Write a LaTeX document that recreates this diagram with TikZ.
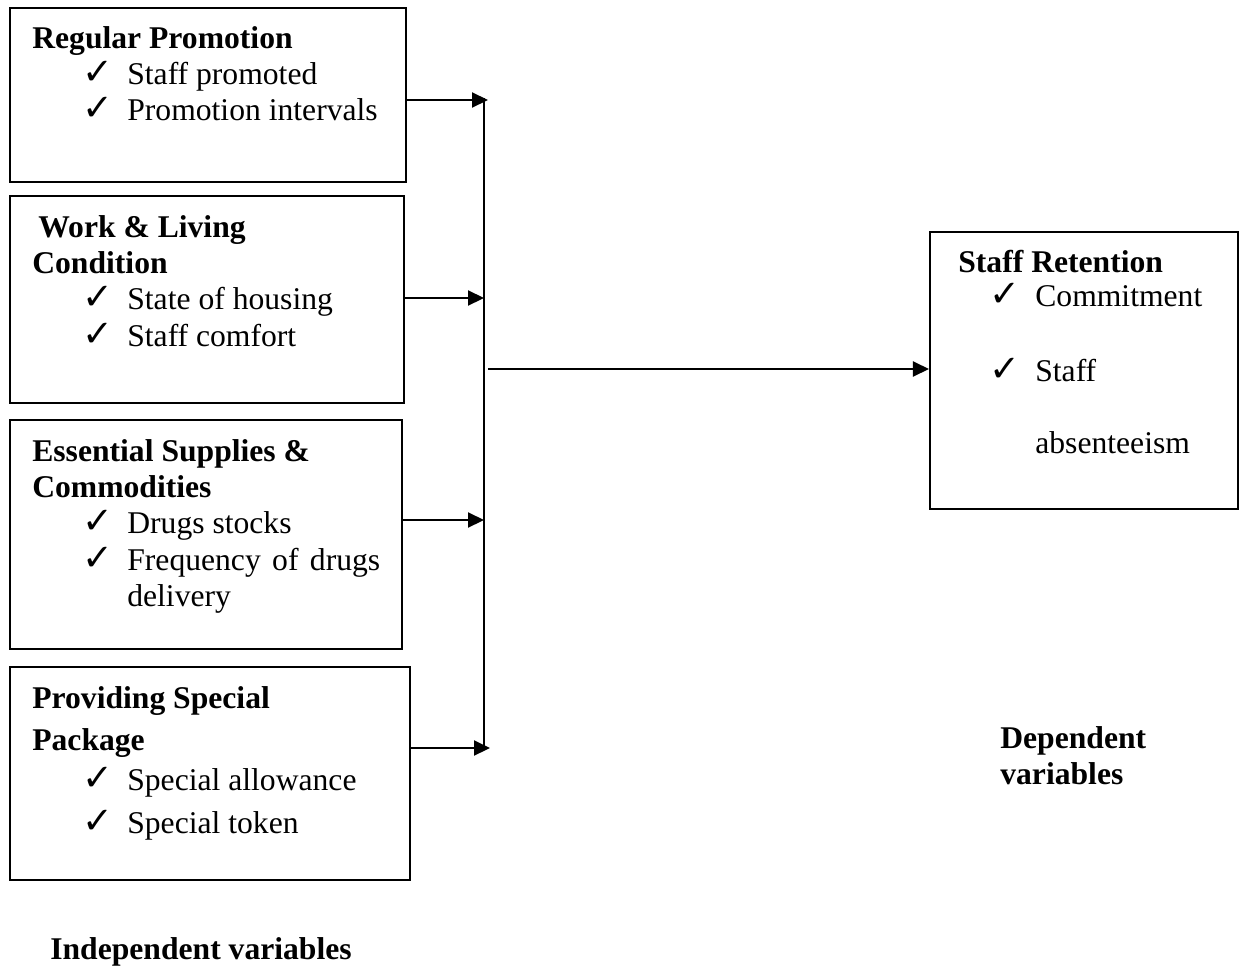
\documentclass[tikz,border=0pt]{standalone}
\usepackage{fontspec}
\setmainfont{Liberation Serif}
\newfontfamily\symfont{DejaVu Sans}
\usetikzlibrary{arrows.meta}

\newcommand{\tick}{{\symfont\fontsize{21}{22}\selectfont ✓}}

\tikzset{
  box/.style={draw, line width=1.2pt, inner sep=0pt},
  txt/.style={anchor=base west, inner sep=0pt, font=\fontsize{18}{22}\selectfont},
  head/.style={txt, font=\fontsize{18}{22}\selectfont\bfseries},
  link/.style={line width=1.2pt, -{Triangle[length=0.32cm,width=0.3cm]}}
}

\begin{document}
\begin{tikzpicture}[x=0.02cm, y=-0.02cm]
  \useasboundingbox (0, 0) rectangle (1243, 970);

  % boxes
  \node[box, minimum width=7.92cm, minimum height=3.48cm] (promo) at (208, 95) {};
  \node[box, minimum width=7.88cm, minimum height=4.14cm] (work) at (207, 299.5) {};
  \node[box, minimum width=7.84cm, minimum height=4.58cm] (supply) at (206, 534.5) {};
  \node[box, minimum width=8.00cm, minimum height=4.26cm] (pkg) at (210, 773.5) {};
  \node[box, minimum width=6.16cm, minimum height=5.54cm] (retain) at (1084, 370.5) {};

  % regular promotion
  \node[head] (promoT) at (32, 48) {Regular Promotion};
  \node[txt] (promoC1) at (82, 84) {\tick};
  \node[txt] (promoA) at (127, 84) {Staff promoted};
  \node[txt] (promoC2) at (82, 120) {\tick};
  \node[txt] (promoB) at (127, 120) {Promotion intervals};

  % work and living
  \node[head] (workT) at (38, 237) {Work \& Living};
  \node[head] (workT2) at (32, 273) {Condition};
  \node[txt] (workC1) at (82, 309) {\tick};
  \node[txt] (workA) at (127, 309) {State of housing};
  \node[txt] (workC2) at (82, 346) {\tick};
  \node[txt] (workB) at (127, 346) {Staff comfort};

  % supplies
  \node[head] (supplyT) at (32, 461) {Essential Supplies \&};
  \node[head] (supplyT2) at (32, 497) {Commodities};
  \node[txt] (supplyC1) at (82, 533) {\tick};
  \node[txt] (supplyA) at (127, 533) {Drugs stocks};
  \node[txt] (supplyC2) at (82, 570) {\tick};
  \node[txt] (supplyB) at (127, 570) {Frequency\hspace{0.36em}of\hspace{0.36em}drugs};
  \node[txt] (supplyB2) at (127, 606) {delivery};

  % special package
  \node[head] (pkgT) at (32, 708) {Providing Special};
  \node[head] (pkgT2) at (32, 750) {Package};
  \node[txt] (pkgC1) at (82, 790) {\tick};
  \node[txt] (pkgA) at (127, 790) {Special allowance};
  \node[txt] (pkgC2) at (82, 833) {\tick};
  \node[txt] (pkgB) at (127, 833) {Special token};

  % staff retention
  \node[head] (retainT) at (958, 272) {Staff Retention};
  \node[txt] (retainC1) at (989, 306) {\tick};
  \node[txt] (retainA) at (1035, 306) {Commitment};
  \node[txt] (retainC2) at (989, 381) {\tick};
  \node[txt] (retainB) at (1035, 381) {Staff};
  \node[txt] (retainB2) at (1035, 453) {absenteeism};

  \node[head] (dep) at (1000, 748) {Dependent};
  \node[head] (dep2) at (1000, 784) {variables};
  \node[head] (indep) at (50, 959) {Independent variables};

  % connectors
  \coordinate (top) at (484, 98);
  \coordinate (bot) at (484, 750);
  \coordinate (a1) at (488, 100);
  \coordinate (a2) at (484, 298);
  \coordinate (a3) at (484, 520);
  \coordinate (a4) at (490, 748);
  \coordinate (mid) at (488, 369);
  \draw[line width=0.6pt] (top) -- (bot);
  \draw[link] (promo.east |- a1) -- (a1);
  \draw[link] (work.east |- a2) -- (a2);
  \draw[link] (supply.east |- a3) -- (a3);
  \draw[link] (pkg.east |- a4) -- (a4);
  \draw[link] (mid) -- (retain.west |- mid);
\end{tikzpicture}
\end{document}
